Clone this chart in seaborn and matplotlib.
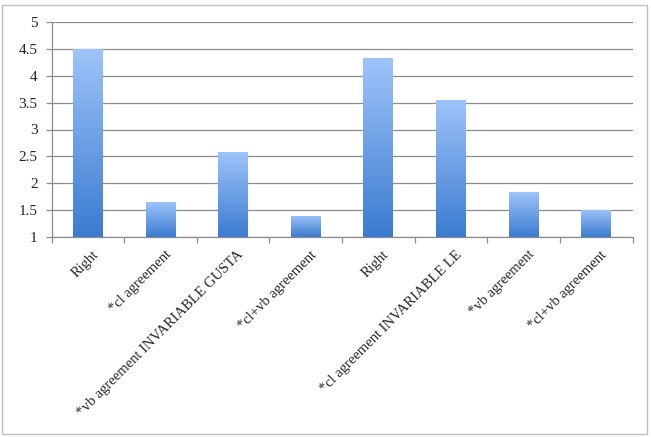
import numpy as np
import pandas as pd
import matplotlib
matplotlib.use("Agg")
import matplotlib.pyplot as plt
import matplotlib.transforms as mtransforms
import seaborn as sns
from matplotlib.colors import LinearSegmentedColormap
from matplotlib.patches import Rectangle

categories = ["Right", "*cl agreement", "*vb agreement INVARIABLE GUSTA",
              "*cl+vb agreement", "Right", "*cl agreement INVARIABLE LE",
              "*vb agreement", "*cl+vb agreement"]
values = [4.5, 1.65, 2.59, 1.40, 4.33, 3.55, 1.83, 1.51]
yticks = [1, 1.5, 2, 2.5, 3, 3.5, 4, 4.5, 5]
ytick_labels = ["1", "1.5", "2", "2.5", "3", "3.5", "4", "4.5", "5"]

sns.set_theme(style="white")
plt.rcParams["font.family"] = ["Liberation Serif", "DejaVu Serif"]

df = pd.DataFrame({"pos": [str(i) for i in range(len(categories))], "value": values})

fig = plt.figure(figsize=(6.51, 4.37), dpi=100)
ax = fig.add_axes([51.5 / 651, 1 - 237 / 437, 581 / 651, 215 / 437])

sns.barplot(data=df, x="pos", y="value", color="#6FA3EA", width=0.41, ax=ax,
            zorder=3, edgecolor="none", linewidth=0)

ax.set_ylim(1, 5)
ax.set_xlim(-0.5, len(categories) - 0.5)

# gradient fill clipped to each bar
cmap = LinearSegmentedColormap.from_list("g", ["#3B7BD0", "#9EC4FA"])
grad = np.linspace(0, 1, 256).reshape(-1, 1)
for p in ax.patches:
    x0, y0 = p.get_x(), p.get_y()
    w, h = p.get_width(), p.get_height()
    y_bottom = max(y0, 1)
    y_top = y0 + h
    p.set_facecolor("none")
    im = ax.imshow(grad, cmap=cmap, aspect="auto", origin="lower",
                   extent=[x0, x0 + w, y_bottom, y_top], zorder=3)
    im.set_clip_path(p)

ax.set_xlim(-0.5, len(categories) - 0.5)
ax.set_ylim(1, 5)

ax.set_yticks(yticks)
ax.set_yticklabels(ytick_labels, fontsize=11)
ax.yaxis.grid(True, color="#8C8C8C", linewidth=0.9, zorder=0)
ax.set_axisbelow(True)

ax.set_xticks(range(len(categories)))
ax.set_xticklabels(categories, rotation=45, ha="right", rotation_mode="anchor",
                   fontsize=10.5)
ax.tick_params(axis="x", which="major", length=0, pad=8)
offset = mtransforms.ScaledTranslation(4 / 100, 0, fig.dpi_scale_trans)
for lbl in ax.get_xticklabels():
    lbl.set_transform(lbl.get_transform() + offset)
ax.set_xticks(np.arange(-0.5, len(categories), 1), minor=True)
ax.tick_params(axis="x", which="minor", length=4, color="#8C8C8C", width=0.9,
               direction="out", bottom=True)
ax.tick_params(axis="y", which="major", length=4, color="#8C8C8C", width=0.9,
               direction="out", left=True, pad=6)

ax.set_xlabel("")
ax.set_ylabel("")
for s in ["top", "right"]:
    ax.spines[s].set_visible(False)
for s in ["left", "bottom"]:
    ax.spines[s].set_color("#8C8C8C")
    ax.spines[s].set_linewidth(0.9)

# outer chart border
fig.patches.append(Rectangle((2 / 651, 3 / 437), 645 / 651, 429 / 437,
                             transform=fig.transFigure, fill=False,
                             edgecolor="#BFBFBF", linewidth=1.0))

fig.savefig("out.png", dpi=100)
